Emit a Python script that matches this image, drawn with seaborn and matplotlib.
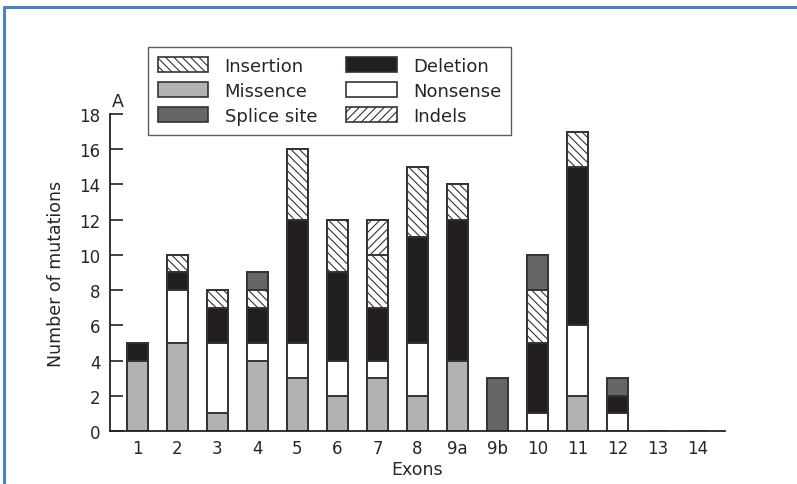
import numpy as np
import pandas as pd
import matplotlib
matplotlib.use("Agg")
import matplotlib.pyplot as plt
import seaborn as sns
from matplotlib.patches import Patch
from matplotlib.lines import Line2D

# Data
exons = ["1", "2", "3", "4", "5", "6", "7", "8", "9a", "9b", "10", "11", "12", "13", "14"]
missence = [4, 5, 1, 4, 3, 2, 3, 2, 4, 0, 0, 2, 0, 0, 0]
nonsense = [0, 3, 4, 1, 2, 2, 1, 3, 0, 0, 1, 4, 1, 0, 0]
deletion = [1, 1, 2, 2, 7, 5, 3, 6, 8, 0, 4, 9, 1, 0, 0]
insertion = [0, 1, 1, 1, 4, 3, 3, 4, 2, 0, 3, 2, 0, 0, 0]
indels = [0, 0, 0, 0, 0, 0, 2, 0, 0, 0, 0, 0, 0, 0, 0]
splice = [0, 0, 0, 1, 0, 0, 0, 0, 0, 3, 2, 0, 1, 0, 0]

# stack order bottom -> top
layers = [
    ("Missence", missence, "#b2b2b2", ""),
    ("Nonsense", nonsense, "white", ""),
    ("Deletion", deletion, "#231f20", ""),
    ("Insertion", insertion, "white", "\\\\\\\\"),
    ("Indels", indels, "white", "////"),
    ("Splice site", splice, "#666666", ""),
]

df = pd.DataFrame({"exon": exons})
running = np.zeros(len(exons))
for name, vals, _, _ in layers:
    running = running + np.array(vals)
    df[name] = running

sns.set_style("white")
plt.rcParams["font.family"] = ["DejaVu Sans"]
plt.rcParams["hatch.linewidth"] = 0.8

fig = plt.figure(figsize=(7.97, 4.85), dpi=100)
ax = fig.add_axes([0.138, 0.1093, 0.7717, 0.6537])

# draw cumulative totals from the top layer down so lower layers cover them
edge = "#333333"
for name, _, color, hatch in reversed(layers):
    sns.barplot(data=df, x="exon", y=name, color=color, saturation=1,
                width=0.52, edgecolor=edge, linewidth=1.4, hatch=hatch or None,
                ax=ax)

ax.set_xlim(-0.68, 14.68)
ax.set_ylim(0, 18)
ax.set_yticks(range(0, 19, 2))
ax.tick_params(axis="y", direction="in", length=9, width=1.2, color="#222222",
               labelsize=12, pad=7, left=True)
ax.tick_params(axis="x", length=0, labelsize=12, pad=6)
for s in ["top", "right"]:
    ax.spines[s].set_visible(False)
for s in ["left", "bottom"]:
    ax.spines[s].set_color("#222222")
    ax.spines[s].set_linewidth(1.3)
ax.set_xlabel("Exons", fontsize=12.5, labelpad=2)
ax.set_ylabel("Number of mutations", fontsize=12.5, labelpad=10)
ax.text(0.012, 1.012, "A", transform=ax.transAxes, fontsize=12.5, ha="center", va="bottom")

handles = {}
for name, _, color, hatch in layers:
    handles[name] = Patch(facecolor=color, edgecolor=edge, hatch=hatch or None, linewidth=1.2)
order = ["Insertion", "Missence", "Splice site", "Deletion", "Nonsense", "Indels"]
fig.legend([handles[n] for n in order], order, ncol=2,
           loc="upper left", bbox_to_anchor=(148 / 797, 1 - 48 / 485),
           borderaxespad=0,
           frameon=True, fancybox=False, edgecolor="#333333", fontsize=13,
           handlelength=2.8, handleheight=0.85, columnspacing=1.6,
           labelspacing=0.38, borderpad=0.55, handletextpad=0.9)

# blue page frame (top and left edges)
frame = "#4f81bd"
fig.add_artist(Line2D([4 / 797, 1], [1 - 8 / 485] * 2, color=frame, lw=2.2, transform=fig.transFigure))
fig.add_artist(Line2D([4 / 797] * 2, [0, 1 - 8 / 485], color=frame, lw=2.2, transform=fig.transFigure))

fig.savefig("out.png", dpi=100)
